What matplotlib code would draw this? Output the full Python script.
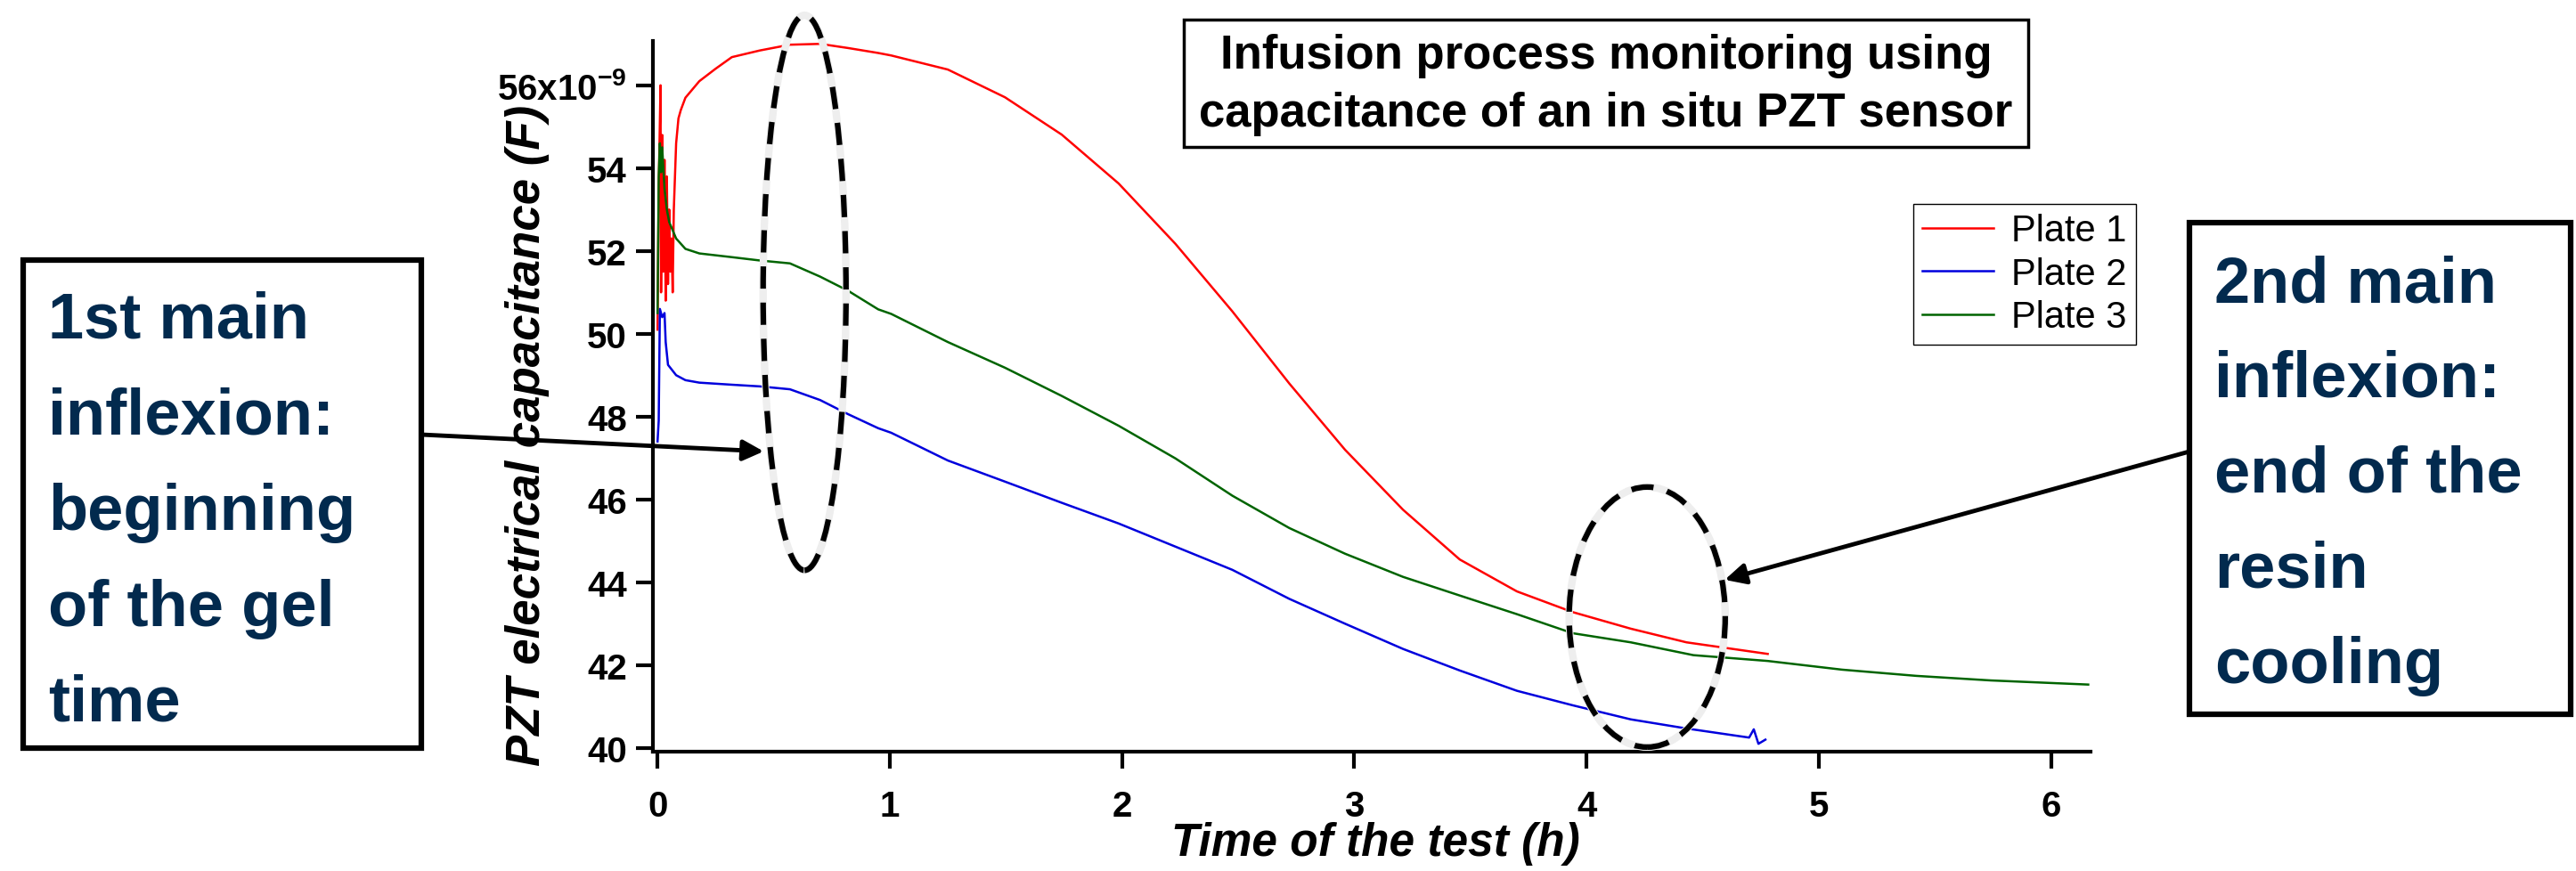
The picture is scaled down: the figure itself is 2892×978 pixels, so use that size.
import matplotlib
matplotlib.use("Agg")
import matplotlib.pyplot as plt
from matplotlib.patches import Ellipse, Rectangle
from matplotlib.ticker import FixedLocator, FuncFormatter

plt.rcParams['font.family'] = ['Liberation Sans', 'DejaVu Sans']
plt.rcParams['mathtext.default'] = 'regular'

# time of the test (h) and capacitance (in 1e-9 F)
red_t = [0.0, 0.005, 0.0128, 0.015, 0.02, 0.025, 0.03, 0.035, 0.04, 0.045, 0.05, 0.055, 0.06,
         0.065, 0.07, 0.08, 0.09, 0.10, 0.12, 0.18, 0.25, 0.32, 0.44, 0.57, 0.70, 0.82, 0.95,
         1.006, 1.25, 1.496, 1.74, 1.985, 2.23, 2.475, 2.72, 2.96, 3.21, 3.454, 3.70, 3.94,
         4.19, 4.43, 4.78]
red_c = [50.1, 53.5, 56.0, 51.0, 54.8, 51.5, 54.2, 50.8, 53.8, 51.2, 53.0, 51.5, 52.3,
         51.0, 53.0, 54.6, 55.2, 55.4, 55.7, 56.1, 56.4, 56.68, 56.84, 56.98, 57.0, 56.9, 56.78,
         56.72, 56.38, 55.71, 54.81, 53.63, 52.17, 50.54, 48.8, 47.2, 45.75, 44.55, 43.78, 43.28,
         42.88, 42.55, 42.27]

blue_t = [0.0, 0.005, 0.01, 0.02, 0.03, 0.035, 0.045, 0.08, 0.12, 0.18, 0.32, 0.44, 0.57,
          0.70, 0.82, 0.95, 1.006, 1.25, 1.496, 1.74, 1.985, 2.23, 2.475, 2.72, 2.96, 3.21,
          3.454, 3.70, 3.94, 4.19, 4.43, 4.70, 4.72, 4.74, 4.77]
blue_c = [47.4, 47.9, 50.6, 50.4, 50.5, 49.8, 49.25, 49.0, 48.88, 48.82, 48.77, 48.73, 48.66,
          48.4, 48.06, 47.72, 47.61, 46.94, 46.43, 45.92, 45.42, 44.86, 44.3, 43.6, 43.0, 42.39,
          41.87, 41.38, 41.03, 40.69, 40.47, 40.25, 40.45, 40.1, 40.2]

green_t = [0.0, 0.005, 0.01, 0.015, 0.02, 0.03, 0.04, 0.05, 0.08, 0.12, 0.18, 0.32, 0.44,
           0.57, 0.70, 0.82, 0.95, 1.006, 1.25, 1.496, 1.74, 1.985, 2.23, 2.475, 2.72, 2.96,
           3.21, 3.454, 3.70, 3.94, 4.19, 4.46, 4.78, 5.10, 5.42, 5.74, 6.16]
green_c = [50.5, 53.8, 54.6, 53.9, 54.5, 53.5, 53.0, 52.7, 52.3, 52.05, 51.94, 51.85, 51.77,
           51.7, 51.38, 51.04, 50.59, 50.48, 49.8, 49.18, 48.5, 47.78, 46.99, 46.09, 45.31, 44.69,
           44.13, 43.68, 43.23, 42.77, 42.55, 42.24, 42.1, 41.89, 41.74, 41.63, 41.53]

labels = ["Plate 1", "Plate 2", "Plate 3"]
x_ticks = [0, 1, 2, 3, 4, 5, 6]
y_ticks = [40, 42, 44, 46, 48, 50, 52, 54, 56]

title_lines = ["Infusion process monitoring using", "capacitance of an in situ PZT sensor"]
note1_lines = ["1st main", "inflexion:", "beginning", "of the gel", "time"]
note2_lines = ["2nd main", "inflexion:", "end of the", "resin", "cooling"]

W, H = 2892, 979
navy = '#022a4e'


def fx(x):
    return x / W


def fy(y):
    return 1 - y / H


fig = plt.figure(figsize=(W / 100, H / 100), dpi=100)
ax = fig.add_axes([fx(733), fy(845), fx(2347) - fx(733), fy(47) - fy(845)])

l1, = ax.plot(red_t, red_c, color='#ff0000', lw=1.8)
l2, = ax.plot(blue_t, blue_c, color='#0000dd', lw=1.8)
l3, = ax.plot(green_t, green_c, color='#006400', lw=1.8)

ax.set_xlim(-0.02, 6.17)
ax.set_ylim(39.91, 57.07)
for s in ['top', 'right']:
    ax.spines[s].set_visible(False)
for s in ['left', 'bottom']:
    ax.spines[s].set_linewidth(3)

ax.xaxis.set_major_locator(FixedLocator(x_ticks))
ax.yaxis.set_major_locator(FixedLocator(y_ticks))
ax.yaxis.set_major_formatter(FuncFormatter(
    lambda v, p: "56x10$^{-9}$" if v == 56 else "%d" % v))
ax.tick_params(axis='both', direction='out', length=14, width=3)
ax.tick_params(axis='x', pad=16)
ax.tick_params(axis='y', pad=7)
for lab in ax.get_xticklabels() + ax.get_yticklabels():
    lab.set_fontsize(29)
    lab.set_fontweight('bold')

ax.set_xlabel("Time of the test (h)", fontsize=37, fontweight='bold', fontstyle='italic')
ax.xaxis.set_label_coords(0.503, -0.129)
ax.xaxis.label.set_va('center')
ax.set_ylabel("PZT electrical capacitance (F)", fontsize=38, fontweight='bold', fontstyle='italic')
ax.yaxis.set_label_coords(-0.0874, 0.446)
ax.yaxis.label.set_va('center')

fig.legend([l1, l2, l3], labels, loc='upper left', bbox_to_anchor=(fx(2148), fy(230)),
           fontsize=30, frameon=True, fancybox=False, edgecolor='black', framealpha=1,
           handlelength=1.9, handletextpad=0.5, labelspacing=0.2, borderpad=0.25,
           borderaxespad=0)
fig.legends[0].get_frame().set_linewidth(1.0)

# dashed ellipses around the two inflexions, with a faint grey halo
for cx, cy, w, h in [(0.633, 50.99, 0.357, 13.4), (4.261, 43.16, 0.672, 6.28)]:
    ax.add_patch(Ellipse((cx, cy), w, h, fill=False, ec='#eeeeee', lw=6,
                         clip_on=False, zorder=4))
    ax.add_patch(Ellipse((cx, cy), w, h, fill=False, ec='black', lw=4.5,
                         ls=(0, (4, 2.5)), clip_on=False, zorder=5))

# title box
fig.add_artist(Rectangle((fx(1329), fy(166)), fx(2277) - fx(1329), fy(23) - fy(166),
                         transform=fig.transFigure, fill=False, ec='black', lw=2.5))
for i, t in enumerate(title_lines):
    fig.text(fx(1803), fy(63 + 65 * i), t, ha='center', va='center',
             fontsize=38, fontweight='bold')

# annotation boxes
fig.add_artist(Rectangle((fx(26), fy(841)), fx(473) - fx(26), fy(293) - fy(841),
                         transform=fig.transFigure, fill=False, ec='black', lw=4.5))
for i, t in enumerate(note1_lines):
    fig.text(fx(54), fy(361 + 107.5 * i), t, ha='left', va='center',
             fontsize=52, fontweight='bold', color=navy)

fig.add_artist(Rectangle((fx(2458), fy(803)), fx(2886) - fx(2458), fy(251) - fy(803),
                         transform=fig.transFigure, fill=False, ec='black', lw=4.5))
for i, t in enumerate(note2_lines):
    fig.text(fx(2486), fy(320 + 107 * i), t, ha='left', va='center',
             fontsize=52, fontweight='bold', color=navy)

# arrows from the boxes to the ellipses
ax.annotate('', xy=(0.457, 47.16), xycoords='data', xytext=(fx(473), fy(489)),
            textcoords='figure fraction', annotation_clip=False,
            arrowprops=dict(arrowstyle='-|>', lw=3.5, color='black', mutation_scale=35,
                            shrinkA=0, shrinkB=0))
ax.annotate('', xy=(4.595, 44.06), xycoords='data', xytext=(fx(2458), fy(508)),
            textcoords='figure fraction', annotation_clip=False,
            arrowprops=dict(arrowstyle='-|>', lw=3.5, color='black', mutation_scale=35,
                            shrinkA=0, shrinkB=0))

fig.savefig("out.png", dpi=100)
